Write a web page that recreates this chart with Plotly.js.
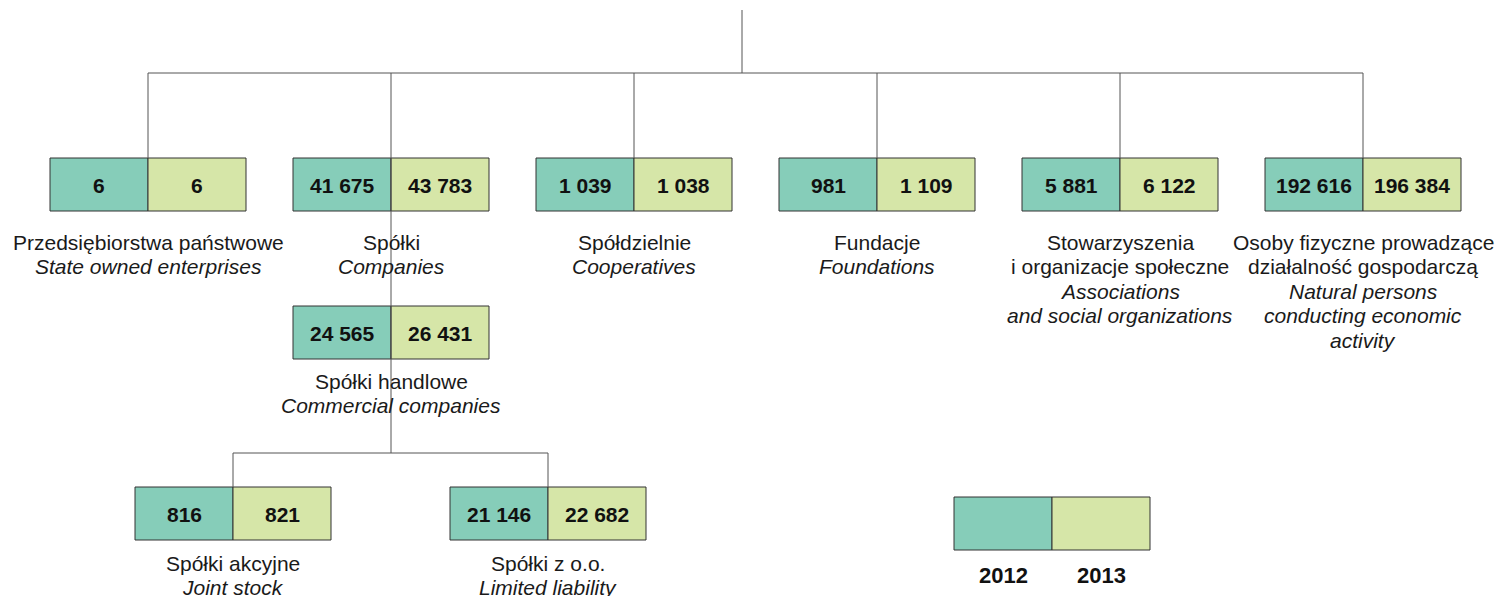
<!DOCTYPE html>
<html>
<head>
<meta charset="utf-8">
<script src="https://cdn.plot.ly/plotly-3.0.1.min.js"></script>
<style>html,body{margin:0;padding:0;background:#fff;}#chart{width:1507px;height:596px;}</style>
</head>
<body>
<div id="chart"></div>
<script>
// ---- data ----
const nodeIds = ["state", "companies", "coop", "found", "assoc", "natural", "commercial", "joint", "limited"];
const labelsPL = [
  ["Przedsiębiorstwa państwowe"],
  ["Spółki"],
  ["Spółdzielnie"],
  ["Fundacje"],
  ["Stowarzyszenia", "i organizacje społeczne"],
  ["Osoby fizyczne prowadzące", "działalność gospodarczą"],
  ["Spółki handlowe"],
  ["Spółki akcyjne"],
  ["Spółki z o.o."]
];
const labelsEN = [
  ["State owned enterprises"],
  ["Companies"],
  ["Cooperatives"],
  ["Foundations"],
  ["Associations", "and social organizations"],
  ["Natural persons", "conducting economic", "activity"],
  ["Commercial companies"],
  ["Joint stock"],
  ["Limited liability"]
];
const values2012 = ["6", "41 675", "1 039", "981", "5 881", "192 616", "24 565", "816", "21 146"];
const values2013 = ["6", "43 783", "1 038", "1 109", "6 122", "196 384", "26 431", "821", "22 682"];
const years = ["2012", "2013"];

// ---- layout (positions, styles) ----
const nodeX = [148, 391, 634, 877, 1120, 1363, 391, 233, 548]; // split position of each box
const nodeY = [158, 158, 158, 158, 158, 158, 306, 487, 487];   // top of each box
const labelGap = [31, 31, 31, 31, 31, 31, 22, 23, 23];          // box bottom -> first label line
const halfW = 98, boxH = 53, lineStep = 24.6;
const colA = "#86CDB9", colB = "#D6E6A8", edge = "#333333", lineCol = "#555555";
const fontFam = "Liberation Sans, Arial, sans-serif";
const txtCol = "#1a1a1a";

const shapes = [];
const annotations = [];
function line(x0, y0, x1, y1) {
  shapes.push({type: "line", xref: "x", yref: "y", x0, y0, x1, y1, line: {color: lineCol, width: 1}, layer: "above"});
}
function text(x, y, t, opts) {
  annotations.push(Object.assign({x, y, xref: "x", yref: "y", text: t, showarrow: false,
    xanchor: "center", yanchor: "middle",
    font: {family: fontFam, size: 21, color: txtCol}}, opts || {}));
}

// connectors
line(742, 10, 742, 73);
line(nodeX[0], 73, nodeX[5], 73);
for (let i = 0; i < 6; i++) {
  if (i === 1) continue;
  line(nodeX[i], 73, nodeX[i], nodeY[i]);
}
line(nodeX[1], 73, nodeX[1], 453);
line(nodeX[7], 453, nodeX[8], 453);
line(nodeX[7], 453, nodeX[7], nodeY[7]);
line(nodeX[8], 453, nodeX[8], nodeY[8]);

// boxes
function box(cx, top, v1, v2) {
  shapes.push({type: "rect", xref: "x", yref: "y", x0: cx - halfW, x1: cx, y0: top, y1: top + boxH,
    fillcolor: colA, line: {color: edge, width: 1}, layer: "below"});
  shapes.push({type: "rect", xref: "x", yref: "y", x0: cx, x1: cx + halfW, y0: top, y1: top + boxH,
    fillcolor: colB, line: {color: edge, width: 1}, layer: "below"});
  const f = {family: fontFam, size: 21, color: "#111"};
  if (v1 !== null) text(cx - halfW / 2, top + boxH / 2 + 1, "<b>" + v1 + "</b>", {font: f});
  if (v2 !== null) text(cx + halfW / 2, top + boxH / 2 + 1, "<b>" + v2 + "</b>", {font: f});
}

for (let i = 0; i < nodeIds.length; i++) {
  box(nodeX[i], nodeY[i], values2012[i], values2013[i]);
  let y = nodeY[i] + boxH + labelGap[i];
  labelsPL[i].forEach(t => { text(nodeX[i], y, t); y += lineStep; });
  labelsEN[i].forEach(t => { text(nodeX[i], y, "<i>" + t + "</i>"); y += lineStep; });
}

// legend
box(1052, 497, null, null);
text(1003, 575, "<b>" + years[0] + "</b>", {font: {family: fontFam, size: 22, color: "#111"}});
text(1101, 575, "<b>" + years[1] + "</b>", {font: {family: fontFam, size: 22, color: "#111"}});

const layout = {
  width: 1507, height: 596,
  margin: {l: 0, r: 0, t: 0, b: 0, pad: 0},
  paper_bgcolor: "#fff", plot_bgcolor: "#fff",
  xaxis: {range: [0, 1507], visible: false, fixedrange: true},
  yaxis: {range: [596, 0], visible: false, fixedrange: true},
  shapes, annotations, showlegend: false
};
Plotly.newPlot("chart", [{x: [], y: [], type: "scatter", hoverinfo: "skip"}], layout, {displayModeBar: false, staticPlot: true});
</script>
</body>
</html>
